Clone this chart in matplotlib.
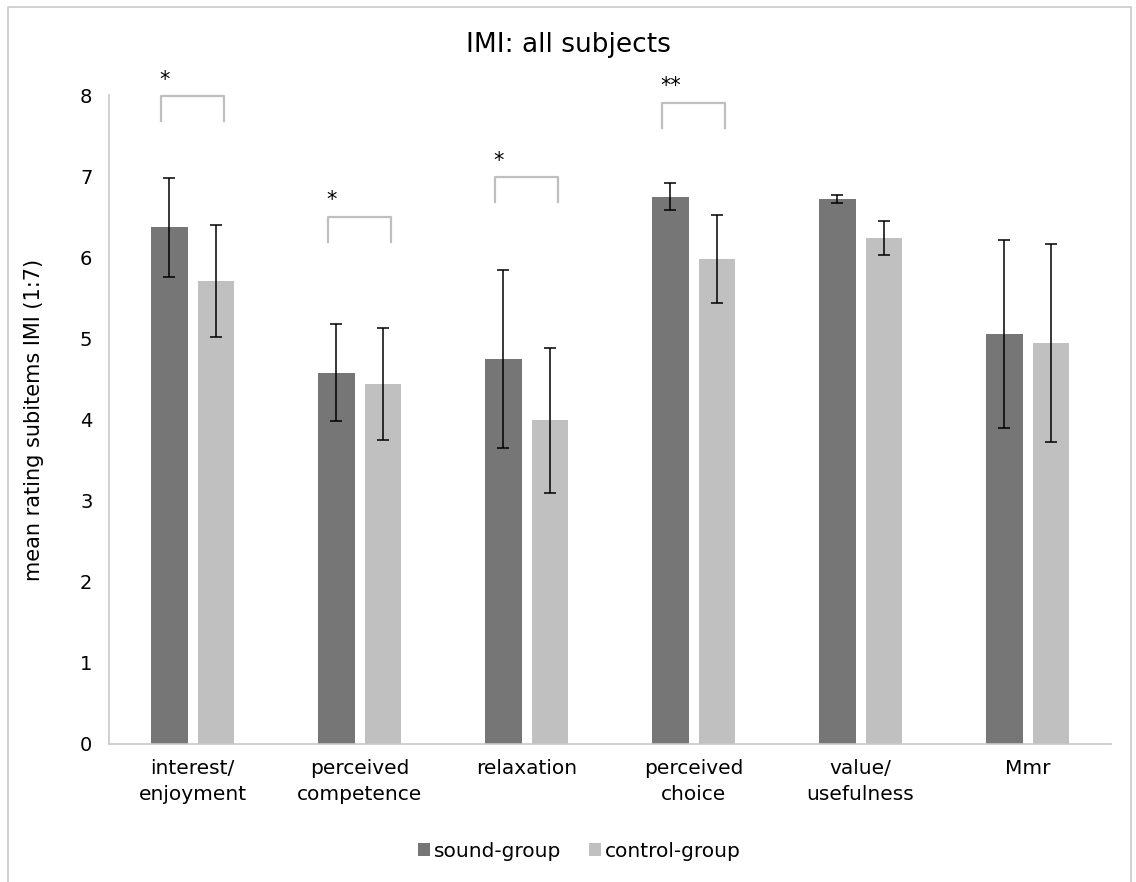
import matplotlib
matplotlib.use("Agg")
from matplotlib import pyplot as plt
from matplotlib.lines import Line2D
import numpy as np

# IMI subscale means and standard deviations per group
categories = ["interest/\nenjoyment", "perceived\ncompetence", "relaxation",
              "perceived\nchoice", "value/\nusefulness", "Mmr"]
sound_mean = [6.37, 4.58, 4.75, 6.75, 6.72, 5.06]
sound_sd = [0.61, 0.60, 1.10, 0.17, 0.05, 1.16]
control_mean = [5.71, 4.44, 3.99, 5.98, 6.24, 4.94]
control_sd = [0.69, 0.69, 0.89, 0.54, 0.21, 1.22]

# significance brackets: category index, label, bracket top
sig_idx = [0, 1, 2, 3]
sig_text = ["*", "*", "*", "**"]
sig_top = [7.99, 6.50, 6.99, 7.91]

dark = "#767676"
light = "#c0c0c0"
grid_col = "#bfbfbf"

plt.rcParams["font.family"] = "DejaVu Sans"

fig = plt.figure(figsize=(11.36, 8.82), dpi=100)
ax = fig.add_axes([0.096, 0.1565, 0.882, 0.7355])

x = np.arange(len(categories))
w = 0.22
off = 0.14
err_kw = dict(ecolor="black", elinewidth=1.1, capthick=1.1)
ax.bar(x - off, sound_mean, w, color=dark, yerr=sound_sd, capsize=4.3,
       error_kw=err_kw, label="sound-group")
ax.bar(x + off, control_mean, w, color=light, yerr=control_sd, capsize=4.3,
       error_kw=err_kw, label="control-group")

# brackets with stars
for i, s, top in zip(sig_idx, sig_text, sig_top):
    x0, x1 = i - 0.19, i + 0.19
    ax.plot([x0, x0, x1, x1], [top - 0.31, top, top, top - 0.31],
            color=grid_col, lw=1.6, solid_joinstyle="round", clip_on=False)
    ax.text(x0 - 0.01, top + 0.08, s, fontsize=15, ha="left", va="bottom",
            clip_on=False)

ax.set_xlim(-0.5, len(categories) - 0.5)
ax.set_ylim(0, 8)
ax.set_yticks(range(0, 9))
ax.set_xticks(x)
ax.set_xticklabels(categories, fontsize=14.5, linespacing=1.45)
ax.tick_params(axis="both", length=0, colors="#000000")
ax.tick_params(axis="y", pad=12, labelsize=14)
ax.tick_params(axis="x", pad=11)

for side in ["top", "right"]:
    ax.spines[side].set_visible(False)
for side in ["left", "bottom"]:
    ax.spines[side].set_color("#c8c8c8")
    ax.spines[side].set_linewidth(1.2)

ax.set_ylabel("mean rating subitems IMI (1:7)", fontsize=15, labelpad=26)
fig.text(0.5, 0.949, "IMI: all subjects", fontsize=19, ha="center", va="center")

fig.legend(loc="center", bbox_to_anchor=(0.51, 0.035), ncol=2, frameon=False,
           fontsize=14.5, handlelength=0.6, handleheight=0.6,
           handletextpad=0.2, columnspacing=1.4)

# outer chart frame
W, H = 1136, 882
fx = [8 / W, 8 / W, 1131 / W, 1131 / W]
fy = [0, 1 - 7 / H, 1 - 7 / H, 0]
fig.add_artist(Line2D(fx, fy, color="#c8c8c8", lw=1.2, transform=fig.transFigure))

fig.savefig("out.png", dpi=100)
